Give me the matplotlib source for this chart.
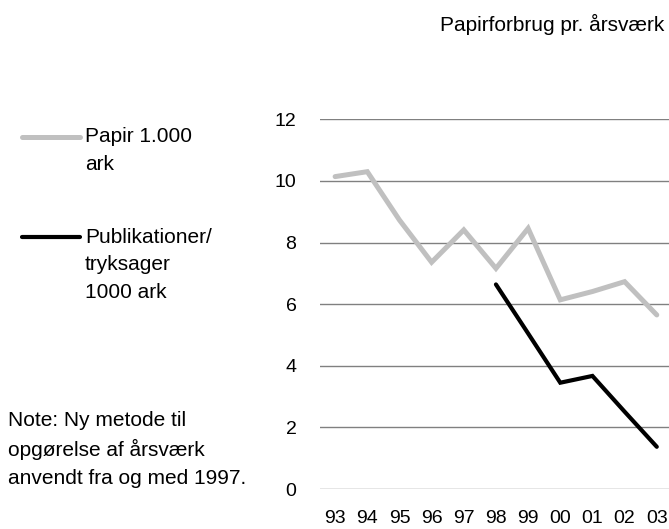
import matplotlib.pyplot as plt
from matplotlib.lines import Line2D

plt.rcParams['font.family'] = ['Liberation Sans', 'DejaVu Sans']

# år (tolabels) og værdier
years = ["93", "94", "95", "96", "97", "98", "99", "00", "01", "02", "03"]
papir = [10.14, 10.30, 8.73, 7.36, 8.41, 7.16, 8.46, 6.14, 6.41, 6.73, 5.65]
publ_years = ["98", "99", "00", "01", "02", "03"]
publikationer = [6.64, 5.05, 3.45, 3.67, 2.51, 1.37]
yticks = [0, 2, 4, 6, 8, 10, 12]

W, H = 669, 529
fig = plt.figure(figsize=(W / 100, H / 100), dpi=100)
ax = fig.add_axes([320 / W, 1 - 489 / H, 1 - 320 / W, (489 - 119.3) / H])

x_all = list(range(len(years)))
x_publ = [years.index(y) for y in publ_years]

ax.plot(x_all, papir, color='#c0c0c0', linewidth=3.6, solid_capstyle='round',
        solid_joinstyle='miter', zorder=3)
ax.plot(x_publ, publikationer, color='black', linewidth=3.0, solid_capstyle='round',
        solid_joinstyle='miter', zorder=4)

ax.set_xlim(-0.47, 10.38)
ax.set_ylim(0, 12)
ax.set_yticks(yticks)
ax.set_xticks(x_all)
ax.set_xticklabels(years)
ax.yaxis.grid(True, color='#808080', linewidth=1.0)
ax.set_axisbelow(True)
for s in ax.spines.values():
    s.set_visible(False)
ax.tick_params(axis='both', length=0, labelsize=14, colors='black')
ax.tick_params(axis='y', pad=17)
ax.tick_params(axis='x', pad=15)

fs = 15

# titel
fig.text(664 / W, 1 - 24 / H, "Papirforbrug pr. årsværk", ha='right', va='center', fontsize=fs)

# legende
fig.add_artist(Line2D([22 / W, 80 / W], [1 - 137 / H] * 2, color='#c0c0c0', linewidth=3.6,
                      solid_capstyle='round', transform=fig.transFigure))
for i, t in enumerate(["Papir 1.000", "ark"]):
    fig.text(85 / W, 1 - (137 + 28 * i) / H, t, ha='left', va='center', fontsize=fs)

fig.add_artist(Line2D([22 / W, 80 / W], [1 - 237 / H] * 2, color='black', linewidth=3.0,
                      solid_capstyle='round', transform=fig.transFigure))
for i, t in enumerate(["Publikationer/", "tryksager", "1000 ark"]):
    fig.text(85 / W, 1 - (237 + 27.5 * i) / H, t, ha='left', va='center', fontsize=fs)

# note
for i, t in enumerate(["Note: Ny metode til", "opgørelse af årsværk", "anvendt fra og med 1997."]):
    fig.text(8 / W, 1 - (421 + 28.5 * i) / H, t, ha='left', va='center', fontsize=fs)

fig.savefig("out.png", dpi=100)
